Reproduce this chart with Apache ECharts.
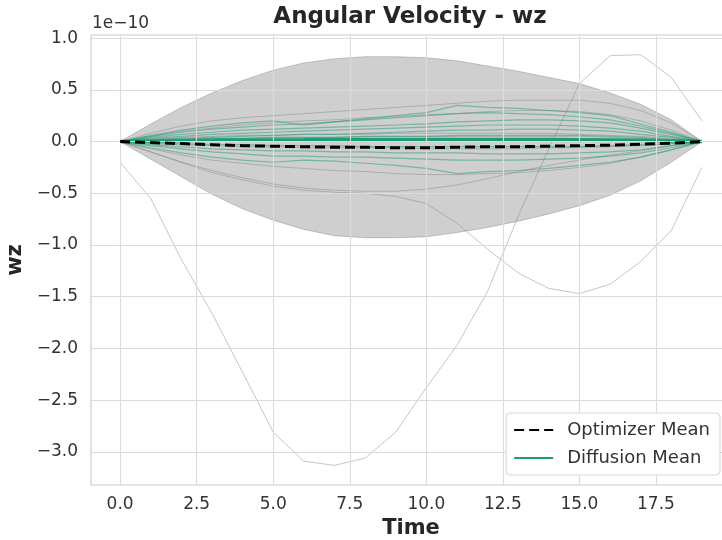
<!DOCTYPE html>
<html><head><meta charset="utf-8">
<script src="https://cdn.jsdelivr.net/npm/echarts@6/dist/echarts.min.js"></script>
<style>html,body{margin:0;padding:0;background:#fff}#c{width:722px;height:540px}</style>
</head><body><div id="c"></div>
<script>
const time = [0,1,2,3,4,5,6,7,8,9,10,11,12,13,14,15,16,17,18,19];
const xTicks = [0,2.5,5,7.5,10,12.5,15,17.5];
const yTicks = [-3,-2.5,-2,-1.5,-1,-0.5,0,0.5,1];

const bandUpper = [0,0.17,0.33,0.47,0.59,0.69,0.76,0.80,0.82,0.82,0.81,0.78,0.73,0.68,0.62,0.56,0.47,0.36,0.21,0];
const bandLower = [0,-0.17,-0.34,-0.51,-0.65,-0.76,-0.85,-0.91,-0.93,-0.93,-0.92,-0.88,-0.83,-0.77,-0.70,-0.62,-0.52,-0.38,-0.20,0];

const optimizerMean = [0,-0.01,-0.02,-0.03,-0.04,-0.045,-0.05,-0.055,-0.055,-0.06,-0.06,-0.055,-0.05,-0.05,-0.045,-0.04,-0.035,-0.025,-0.015,0];
const diffusionMean = [0,0.005,0.01,0.012,0.015,0.015,0.017,0.02,0.02,0.02,0.02,0.02,0.02,0.02,0.02,0.018,0.015,0.012,0.006,0];

const optSample1 = [0,0.08,0.15,0.20,0.23,0.25,0.27,0.29,0.31,0.33,0.35,0.37,0.39,0.40,0.40,0.40,0.37,0.30,0.18,0];
const optSample2 = [0,0.05,0.10,0.13,0.16,0.18,0.20,0.21,0.23,0.24,0.26,0.27,0.29,0.30,0.30,0.29,0.26,0.20,0.11,0];
const optSample3 = [0,0.02,0.04,0.05,0.06,0.06,0.07,0.07,0.07,0.08,0.08,0.08,0.08,0.08,0.08,0.07,0.06,0.05,0.03,0];
const optSample4 = [0,0.01,0.02,0.03,0.03,0.04,0.04,0.04,0.05,0.05,0.05,0.05,0.05,0.05,0.05,0.05,0.04,0.03,0.02,0];
const optSample5 = [0,-0.02,-0.03,-0.04,-0.05,-0.05,-0.06,-0.06,-0.06,-0.06,-0.07,-0.07,-0.07,-0.07,-0.06,-0.06,-0.05,-0.04,-0.02,0];
const optSample6 = [0,-0.07,-0.13,-0.18,-0.21,-0.24,-0.26,-0.28,-0.29,-0.31,-0.32,-0.32,-0.31,-0.30,-0.28,-0.25,-0.21,-0.15,-0.08,0];
const optSample7 = [0,-0.10,-0.20,-0.28,-0.35,-0.41,-0.45,-0.47,-0.48,-0.48,-0.46,-0.42,-0.36,-0.29,-0.23,-0.18,-0.13,-0.09,-0.04,0];
const optSample8 = [0,-0.10,-0.20,-0.30,-0.37,-0.43,-0.47,-0.49,-0.50,-0.53,-0.60,-0.79,-1.04,-1.27,-1.42,-1.47,-1.38,-1.16,-0.86,-0.25];
const optSample9 = [-0.20,-0.55,-1.14,-1.66,-2.23,-2.81,-3.09,-3.13,-3.06,-2.81,-2.38,-1.97,-1.45,-0.72,-0.07,0.56,0.83,0.84,0.62,0.20];

const difSample1 = [0,0.06,0.11,0.15,0.18,0.20,0.16,0.19,0.22,0.25,0.28,0.35,0.33,0.32,0.30,0.28,0.25,0.17,0.09,0];
const difSample2 = [0,0.05,0.09,0.12,0.14,0.16,0.17,0.19,0.21,0.23,0.25,0.27,0.28,0.27,0.26,0.24,0.21,0.15,0.08,0];
const difSample3 = [0,0.04,0.07,0.09,0.11,0.12,0.13,0.14,0.15,0.16,0.17,0.19,0.20,0.21,0.21,0.20,0.18,0.13,0.07,0];
const difSample4 = [0,0.03,0.05,0.07,0.08,0.09,0.10,0.11,0.12,0.13,0.14,0.15,0.16,0.16,0.16,0.15,0.13,0.10,0.05,0];
const difSample5 = [0,0.02,0.03,0.04,0.05,0.06,0.07,0.07,0.08,0.09,0.10,0.11,0.11,0.12,0.12,0.11,0.10,0.07,0.04,0];
const difSample6 = [0,0.01,0.02,0.03,0.03,0.04,0.04,0.04,0.05,0.05,0.05,0.06,0.06,0.06,0.06,0.06,0.05,0.04,0.02,0];
const difSample7 = [0,-0.01,-0.02,-0.03,-0.03,-0.04,-0.04,-0.04,-0.05,-0.05,-0.05,-0.05,-0.05,-0.05,-0.05,-0.05,-0.04,-0.03,-0.02,0];
const difSample8 = [0,-0.03,-0.05,-0.07,-0.08,-0.09,-0.09,-0.10,-0.10,-0.11,-0.11,-0.11,-0.12,-0.12,-0.12,-0.11,-0.10,-0.08,-0.04,0];
const difSample9 = [0,-0.04,-0.07,-0.10,-0.12,-0.14,-0.14,-0.15,-0.15,-0.16,-0.17,-0.18,-0.18,-0.18,-0.17,-0.16,-0.14,-0.11,-0.06,0];
const difSample10 = [0,-0.06,-0.11,-0.15,-0.18,-0.20,-0.18,-0.19,-0.21,-0.23,-0.26,-0.31,-0.29,-0.28,-0.26,-0.23,-0.20,-0.15,-0.08,0];

const optimizerSamples = [optSample1,optSample2,optSample3,optSample4,optSample5,optSample6,optSample7,optSample8,optSample9];
const diffusionSamples = [difSample1,difSample2,difSample3,difSample4,difSample5,difSample6,difSample7,difSample8,difSample9,difSample10];

const FONT = 'DejaVu Sans';
const pairs = arr => time.map((t,i)=>[t,arr[i]]);
const fmt = v => (Math.abs(v) < 1e-9 ? '0.0' : v.toFixed(1)).replace('-', '\u2212');

const series = [];
// grid lines
series.push({
  name:'_grid', type:'line', data:[], z:0, silent:true,
  markLine:{
    silent:true, symbol:'none', label:{show:false}, animation:false,
    lineStyle:{color:'#dcdcdc', width:1.1, type:'solid'},
    emphasis:{disabled:true},
    data:[...xTicks.map(v=>({xAxis:v})), ...yTicks.map(v=>({yAxis:v}))]
  }
});
// band fill polygon built from bandUpper / bandLower through the axis scales
series.push({
  name:'_band', type:'custom', z:1, silent:true, data:[[0,0]],
  renderItem:(params, api) => {
    const up = time.map((t,i)=>api.coord([t,bandUpper[i]]));
    const lo = time.map((t,i)=>api.coord([t,bandLower[i]])).reverse();
    return {type:'polygon', shape:{points:up.concat(lo)}, style:{fill:'rgba(128,128,128,0.38)', stroke:null}};
  }
});
series.push({
  name:'_bandUp', type:'line', data:pairs(bandUpper), symbol:'none', z:1, silent:true,
  lineStyle:{color:'rgba(110,110,110,0.35)', width:1}
});
series.push({
  name:'_bandLow', type:'line', data:pairs(bandLower), symbol:'none', z:1, silent:true,
  lineStyle:{color:'rgba(110,110,110,0.35)', width:1}
});
optimizerSamples.forEach((s,k)=>series.push({
  name:'_opt'+k, type:'line', data:pairs(s), symbol:'none', z:2, silent:true,
  lineStyle:{color:'rgba(128,128,128,0.45)', width:1}
}));
diffusionSamples.forEach((s,k)=>series.push({
  name:'_dif'+k, type:'line', data:pairs(s), symbol:'none', z:3, silent:true,
  lineStyle:{color:'rgba(27,158,119,0.5)', width:1.2}
}));
series.push({
  name:'Diffusion Mean', type:'line', data:pairs(diffusionMean), symbol:'none', z:4,
  lineStyle:{color:'#1b9e77', width:3.5}, itemStyle:{color:'#1b9e77'}
});
series.push({
  name:'Optimizer Mean', type:'line', data:pairs(optimizerMean), symbol:'none', z:5,
  lineStyle:{color:'#000000', width:3, type:[10,5]}, itemStyle:{color:'#000000'}
});

const chart = echarts.init(document.getElementById('c'), null, {renderer:'canvas'});
chart.setOption({
  animation:false,
  backgroundColor:'#ffffff',
  textStyle:{fontFamily:FONT},
  grid:{left:91, top:35, right:-9, bottom:55, outerBoundsMode:'none', containLabel:false,
        show:true, borderColor:'#cccccc', borderWidth:1.2, backgroundColor:'transparent'},
  xAxis:{
    type:'value', min:-0.95, max:19.95,
    name:'Time', nameLocation:'middle', nameGap:33,
    nameTextStyle:{fontFamily:FONT, fontWeight:'bold', fontSize:21, color:'#262626'},
    axisLine:{show:false}, axisTick:{show:false, customValues:xTicks}, splitLine:{show:false},
    axisLabel:{customValues:xTicks, formatter:fmt, fontFamily:FONT, fontSize:17, color:'#333333', margin:11}
  },
  yAxis:{
    type:'value', min:-3.32, max:1.03,
    name:'wz', nameLocation:'middle', nameGap:62,
    nameTextStyle:{fontFamily:FONT, fontWeight:'bold', fontSize:21, color:'#262626'},
    axisLine:{show:false}, axisTick:{show:false, customValues:yTicks}, splitLine:{show:false},
    axisLabel:{customValues:yTicks, formatter:fmt, fontFamily:FONT, fontSize:17, color:'#333333', margin:13}
  },
  legend:{
    data:['Optimizer Mean','Diffusion Mean'],
    orient:'vertical', right:2, bottom:65, z:20,
    backgroundColor:'#ffffff', borderColor:'#d6d6d6', borderWidth:1, borderRadius:4,
    padding:[8,10,8,7], itemGap:10, itemWidth:39, itemHeight:14,
    itemStyle:{color:'rgba(0,0,0,0)', borderColor:'rgba(0,0,0,0)', borderWidth:0, opacity:0},
    textStyle:{fontFamily:FONT, fontSize:18, color:'#333333', padding:[0,0,0,9]}
  },
  graphic:[
    {type:'text', x:410, y:17, style:{text:'Angular Velocity - wz', font:'bold 23px "DejaVu Sans"', fill:'#262626', textAlign:'center', textVerticalAlign:'middle'}},
    {type:'text', x:92, y:24, style:{text:'1e\u221210', font:'17px "DejaVu Sans"', fill:'#333333', textAlign:'left', textVerticalAlign:'middle'}}
  ],
  series:series
});
</script></body></html>
